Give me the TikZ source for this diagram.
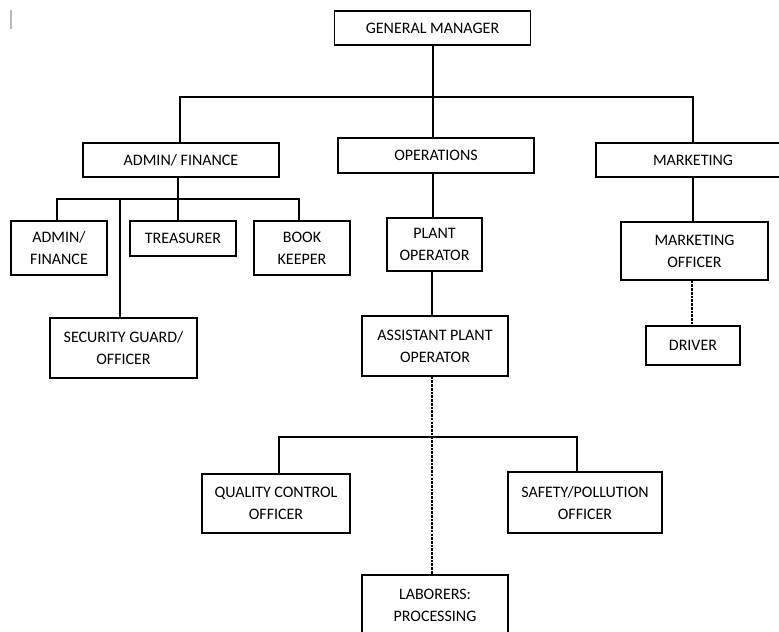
\documentclass[tikz,border=0pt]{standalone}
\usepackage{fontspec}
\setmainfont{Carlito}
\begin{document}
\begin{tikzpicture}[x=0.75pt,y=-0.75pt,
  box/.style={draw,line width=1.1pt,inner sep=0pt,align=center,
    font=\fontsize{12}{16.5}\selectfont},
  link/.style={line width=1.1pt},
  dlink/.style={line width=0.8pt,dash pattern=on 2pt off 0.8pt}]
\useasboundingbox (0,0) rectangle (779,632);
\clip (0,0) rectangle (779,632);
\fill[white] (0,0) rectangle (779,632);
\draw[gray!55,line width=1.1pt] (11,10) -- (11,29);
% nodes
\node[box,minimum width=196*0.75pt,minimum height=34*0.75pt] (gm) at (432.5,28) {GENERAL MANAGER};
\node[box,minimum width=196*0.75pt,minimum height=34*0.75pt] (admin) at (181,160) {ADMIN/ FINANCE};
\node[box,minimum width=196*0.75pt,minimum height=35*0.75pt] (ops) at (436,155.5) {OPERATIONS};
\node[box,minimum width=194*0.75pt,minimum height=34*0.75pt] (mkt) at (693,160) {MARKETING};
\node[box,minimum width=96*0.75pt,minimum height=54*0.75pt] (af) at (59,248) {ADMIN/\\FINANCE};
\node[box,minimum width=106*0.75pt,minimum height=35*0.75pt] (treas) at (183,238.5) {TREASURER};
\node[box,minimum width=96*0.75pt,minimum height=54*0.75pt] (book) at (302,248) {BOOK\\KEEPER};
\node[box,minimum width=147*0.75pt,minimum height=60*0.75pt] (sec) at (123.5,348) {SECURITY GUARD/\\OFFICER};
\node[box,minimum width=95*0.75pt,minimum height=53*0.75pt] (plant) at (434.5,244.5) {PLANT\\OPERATOR};
\node[box,minimum width=146*0.75pt,minimum height=60*0.75pt] (asst) at (435,346) {ASSISTANT PLANT\\OPERATOR};
\node[box,minimum width=147*0.75pt,minimum height=58*0.75pt] (mo) at (694.5,251) {MARKETING\\OFFICER};
\node[box,minimum width=94*0.75pt,minimum height=39*0.75pt] (driver) at (693,345.5) {DRIVER};
\node[box,minimum width=148*0.75pt,minimum height=59*0.75pt] (qc) at (276,503.5) {QUALITY CONTROL\\OFFICER};
\node[box,minimum width=154*0.75pt,minimum height=61*0.75pt] (safety) at (585,502.5) {SAFETY/POLLUTION\\OFFICER};
\node[box,minimum width=146*0.75pt,minimum height=60*0.75pt] (lab) at (435,605) {LABORERS:\\PROCESSING};
% coordinates for bars
\coordinate (bar1) at (433,97);
\coordinate (bar2) at (178,199);
\coordinate (bar3) at (432,437);
% top level
\draw[link] (bar1 |- gm.south) -- (bar1 |- ops.north);
\draw[link] (180,0 |- admin.north) -- (180,97) -- (693,97) -- (693,0 |- mkt.north);
% admin branch
\draw[link] (bar2 |- admin.south) -- (bar2 |- treas.north);
\draw[link] (57,0 |- af.north) -- (57,199) -- (299,199) -- (299,0 |- book.north);
\draw[link] (120,199) -- (120,0 |- sec.north);
% operations branch
\draw[link] (433,0 |- ops.south) -- (433,0 |- plant.north);
\draw[link] (432,0 |- plant.south) -- (432,0 |- asst.north);
\draw[dlink] (bar3 |- asst.south) -- (bar3 |- lab.north);
\draw[link] (279,0 |- qc.north) -- (279,437) -- (577,437) -- (577,0 |- safety.north);
% marketing branch
\draw[link] (693,0 |- mkt.south) -- (693,0 |- mo.north);
\draw[dlink] (692,0 |- mo.south) -- (692,0 |- driver.north);
\end{tikzpicture}
\end{document}
